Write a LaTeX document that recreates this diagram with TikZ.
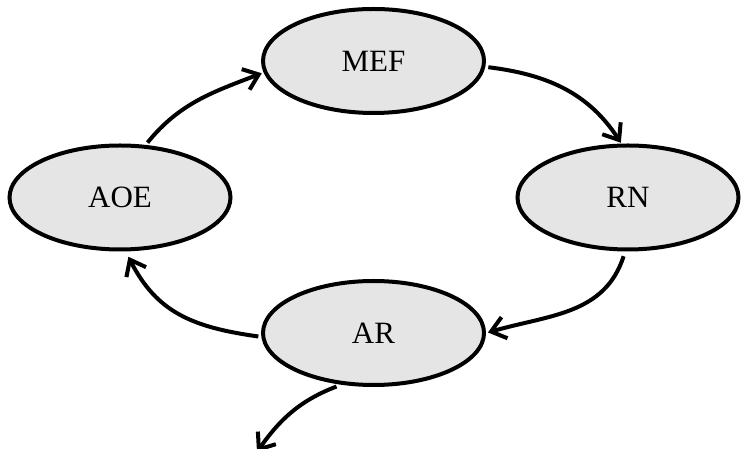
\documentclass[tikz,border=0pt]{standalone}
\usepackage{fontspec}
\setmainfont{Liberation Serif}
\usetikzlibrary{shapes.geometric,arrows.meta}
\tikzset{
  state/.style={ellipse, draw=black, line width=4pt, fill=black!10, inner sep=0pt,
    minimum width=221pt, minimum height=104pt, font=\fontsize{31}{33}\selectfont},
  flow/.style={line width=4pt, -{Straight Barb[length=14pt,width=22pt,line width=4pt]}}
}
\begin{document}
\begin{tikzpicture}[x=1pt,y=1pt]
\useasboundingbox (0,0) rectangle (741,449);
\node[state] (aoe) at (120,251.5) {AOE};
\node[state] (mef) at (373.5,388) {MEF};
\node[state] (rn) at (628,251.5) {RN};
\node[state] (ar) at (373.5,116) {AR};
\coordinate (out) at (257,-3);
\draw[flow, shorten <=3pt, shorten >=2pt] (aoe.64) to[out=51,in=201] (mef.186);
\draw[flow, shorten <=3pt, shorten >=1pt] (mef.357) to[out=-7,in=123] (rn.97);
\draw[flow, shorten <=5pt, shorten >=2pt] (rn.267) to[out=252,in=16,looseness=1.05] (ar.east);
\draw[flow, shorten <=3pt, shorten >=6pt] (ar.182) to[out=172,in=-63,looseness=1.1] (aoe.276);
\draw[flow, shorten <=5pt] (ar.238) to[out=201,in=55] (out);
\end{tikzpicture}
\end{document}
